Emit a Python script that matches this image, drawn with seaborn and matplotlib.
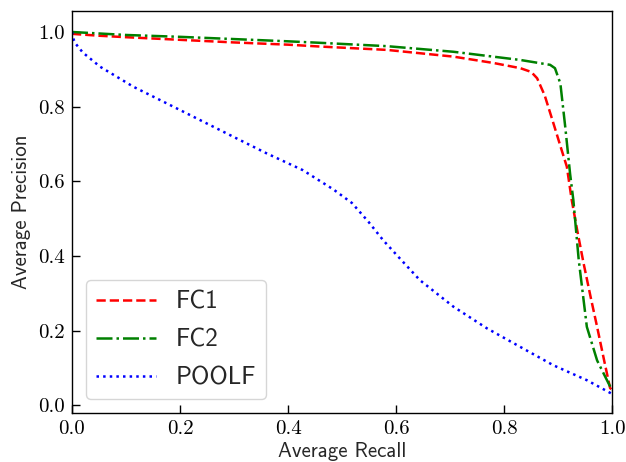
import numpy as np
import pandas as pd
import matplotlib
matplotlib.use('Agg')
import matplotlib.pyplot as plt
import seaborn as sns

# precision/recall curves
fc1_recall = [0.0, 0.05, 0.1, 0.2, 0.3, 0.4, 0.459, 0.583, 0.706, 0.78, 0.83, 0.85,
              0.861, 0.875, 0.891, 0.905, 0.916, 0.925, 0.935, 0.947, 0.96, 0.972,
              0.985, 0.996, 1.0]
fc1_precision = [0.995, 0.99, 0.986, 0.979, 0.972, 0.966, 0.961, 0.952, 0.934, 0.917,
                 0.903, 0.893, 0.876, 0.83, 0.756, 0.69, 0.639, 0.55, 0.47, 0.38,
                 0.29, 0.21, 0.12, 0.046, 0.04]

fc2_recall = [0.0, 0.1, 0.2, 0.3, 0.4, 0.459, 0.583, 0.706, 0.83, 0.885, 0.894, 0.904,
              0.913, 0.922, 0.928, 0.938, 0.953, 0.972, 0.993, 1.0]
fc2_precision = [1.0, 0.992, 0.987, 0.981, 0.975, 0.971, 0.962, 0.947, 0.925, 0.912,
                 0.903, 0.862, 0.746, 0.62, 0.55, 0.389, 0.21, 0.12, 0.059, 0.04]

poolf_recall = [0.0, 0.003, 0.006, 0.02, 0.052, 0.114, 0.175, 0.237, 0.299, 0.36,
                0.427, 0.484, 0.518, 0.549, 0.576, 0.607, 0.644, 0.706, 0.768, 0.83,
                0.891, 0.953, 1.0]
poolf_precision = [1.0, 0.98, 0.97, 0.945, 0.907, 0.853, 0.809, 0.764, 0.719, 0.675,
                   0.63, 0.578, 0.542, 0.491, 0.442, 0.393, 0.335, 0.264, 0.206, 0.156,
                   0.107, 0.067, 0.03]

tick_vals = [0.0, 0.2, 0.4, 0.6, 0.8, 1.0]
tick_labels = ['0.0', '0.2', '0.4', '0.6', '0.8', '1.0']

sns.set_style('ticks')
plt.rcParams['axes.formatter.use_mathtext'] = True

fig, ax = plt.subplots(figsize=(6.26, 4.62), dpi=100)
fig.subplots_adjust(left=0.115, right=0.978, bottom=0.106, top=0.976)

sns.lineplot(x=fc1_recall, y=fc1_precision, ax=ax, color='red', linestyle='--',
             linewidth=1.8, label='FC1', sort=False)
sns.lineplot(x=fc2_recall, y=fc2_precision, ax=ax, color='green', linestyle='-.',
             linewidth=1.8, label='FC2', sort=False)
sns.lineplot(x=poolf_recall, y=poolf_precision, ax=ax, color='blue', linestyle=':',
             linewidth=1.8, label='POOLF', sort=False)

ax.set_xlim(0, 1)
ax.set_ylim(-0.021, 1.056)
ax.set_xticks(tick_vals)
ax.set_yticks(tick_vals)
ax.set_xticklabels(tick_labels, family='cmr10', fontsize=15)
ax.set_yticklabels(tick_labels, family='cmr10', fontsize=15)
ax.tick_params(direction='in', length=6, width=1, colors='black', pad=5)

for s in ax.spines.values():
    s.set_visible(True)
    s.set_color('black')
    s.set_linewidth(1.0)

ax.set_xlabel('Average Recall', family='cmss10', fontsize=15, labelpad=3)
ax.set_ylabel('Average Precision', family='cmss10', fontsize=15, labelpad=5)

ax.legend(loc='lower left', prop={'family': 'cmss10', 'size': 18}, handlelength=2.4,
          frameon=True, framealpha=0.8, edgecolor='#cccccc', fancybox=True,
          borderaxespad=0.55, labelspacing=0.6)

plt.savefig('out.png', dpi=100)
